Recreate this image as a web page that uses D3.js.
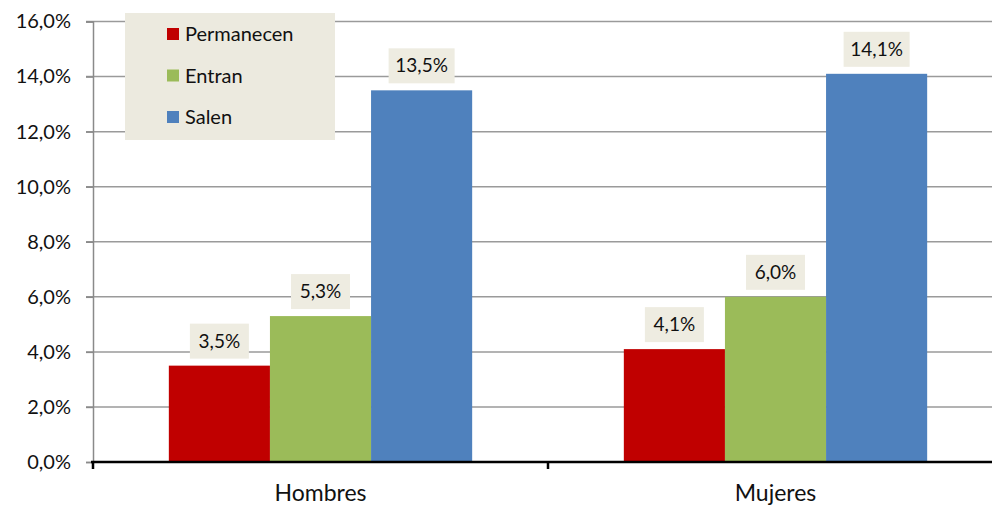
<!DOCTYPE html>
<html><head><meta charset="utf-8">
<script src="https://cdn.jsdelivr.net/npm/d3@7"></script>
<style>body{margin:0;background:#fff;}svg{display:block;}</style>
</head><body>
<svg id="c" width="992" height="508"></svg>
<script>
const categories = ["Hombres", "Mujeres"];
const seriesNames = ["Permanecen", "Entran", "Salen"];
const permanecen = [3.5, 4.1];
const entran = [5.3, 6.0];
const salen = [13.5, 14.1];
const yTicks = [0, 2, 4, 6, 8, 10, 12, 14, 16];
const colors = ["#C00000", "#9BBB59", "#4F81BD"];

const values = [permanecen, entran, salen];
const svg = d3.select("#c");
const font = "Lato, 'Open Sans', sans-serif";
const x0 = 93, x1 = 1003, yTop = 21.5, yBot = 462;
const x = d3.scaleBand().domain(categories).range([x0, x1]).paddingInner(0).paddingOuter(0);
const y = d3.scaleLinear().domain([0, 16]).range([yBot, yTop]);
const xs = d3.scaleBand().domain(seriesNames).range([0, x.bandwidth()]).paddingOuter(0.75).paddingInner(0);

// gridlines
svg.append("g").selectAll("line").data(yTicks.filter(d => d > 0)).join("line")
  .attr("x1", x0 - 7).attr("x2", 992).attr("y1", d => y(d)).attr("y2", d => y(d))
  .attr("stroke", "#9a9a9a").attr("stroke-width", 1.5);

// y axis
const ya = svg.append("g").attr("transform", `translate(${x0},0)`)
  .call(d3.axisLeft(y).tickValues(yTicks).tickSize(7).tickPadding(15)
    .tickFormat(d => d3.format(".1f")(d).replace(".", ",") + "%"));
ya.select(".domain").attr("stroke", "#8a8a8a").attr("stroke-width", 1.5);
ya.selectAll(".tick line").attr("stroke", "#8a8a8a").attr("stroke-width", 1.5);
ya.selectAll("text").attr("font-family", font).attr("font-size", 20).attr("fill", "#111");

// bars
const groups = svg.append("g").selectAll("g").data(categories).join("g")
  .attr("transform", d => `translate(${x(d)},0)`);
groups.each(function(cat, ci) {
  const g = d3.select(this);
  seriesNames.forEach((s, si) => {
    const v = values[si][ci];
    g.append("rect").attr("x", xs(s)).attr("width", xs.bandwidth())
      .attr("y", y(v)).attr("height", y(0) - y(v)).attr("fill", colors[si]);
  });
});

// x axis
const xa = svg.append("g").attr("transform", `translate(0,${yBot})`);
xa.append("line").attr("x1", x0 - 2).attr("x2", 992).attr("stroke", "#000").attr("stroke-width", 2.5);
xa.selectAll("line.t").data([x0, x0 + x.bandwidth(), x1]).join("line").attr("class", "t")
  .attr("x1", d => d).attr("x2", d => d).attr("y1", 0).attr("y2", 7)
  .attr("stroke", "#000").attr("stroke-width", 2.5);
xa.selectAll("text").data(categories).join("text")
  .attr("x", d => x(d) + x.bandwidth() / 2).attr("y", 39)
  .attr("text-anchor", "middle").attr("font-family", font).attr("font-size", 23).attr("fill", "#111")
  .text(d => d);

// data labels
groups.each(function(cat, ci) {
  const g = d3.select(this);
  seriesNames.forEach((s, si) => {
    const v = values[si][ci];
    const cx = xs(s) + xs.bandwidth() / 2;
    const txt = d3.format(".1f")(v).replace(".", ",") + "%";
    const w = txt.length > 4 ? 66 : 59;
    g.append("rect").attr("x", cx - w / 2).attr("y", y(v) - 42).attr("width", w).attr("height", 35)
      .attr("fill", "#EEECE1");
    g.append("text").attr("x", cx).attr("y", y(v) - 18).attr("text-anchor", "middle")
      .attr("font-family", font).attr("font-size", 19).attr("fill", "#111").text(txt);
  });
});

// legend
const lg = svg.append("g");
lg.append("rect").attr("x", 125).attr("y", 13).attr("width", 210).attr("height", 127).attr("fill", "#ECEADF");
seriesNames.forEach((s, i) => {
  const yy = 34 + i * 41.5;
  lg.append("rect").attr("x", 167).attr("y", yy - 6).attr("width", 12).attr("height", 12).attr("fill", colors[i]);
  lg.append("text").attr("x", 185).attr("y", yy + 7).attr("font-family", font).attr("font-size", 20)
    .attr("fill", "#111").text(s);
});
</script>
</body></html>
